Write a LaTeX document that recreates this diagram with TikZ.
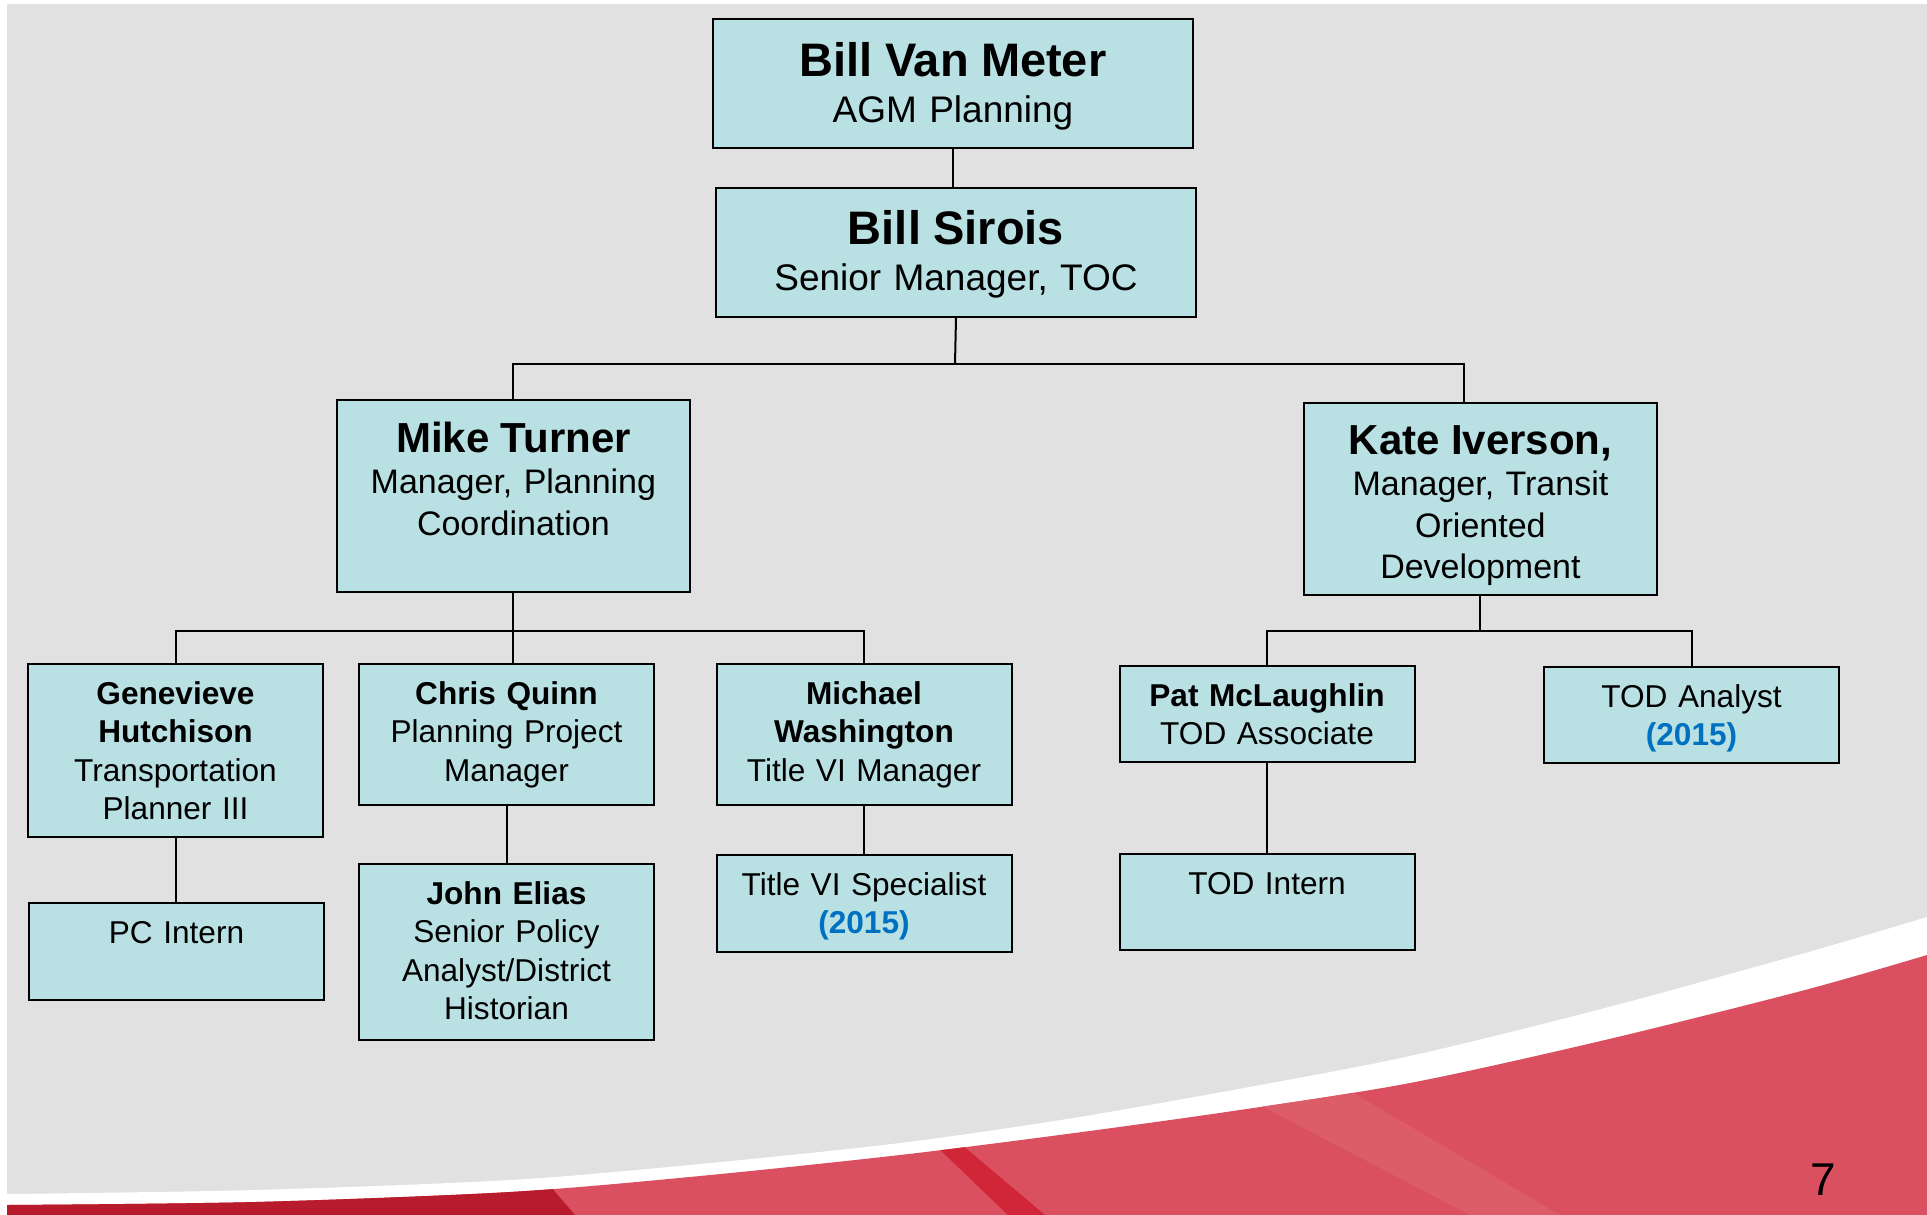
\documentclass[tikz,border=0pt]{standalone}
\usepackage{fontspec}
\setmainfont{Liberation Sans}
\usepackage{xcolor}
\usepackage{tikz}
\definecolor{slidegray}{HTML}{E1E1E1}
\definecolor{boxfill}{HTML}{B9E0E3}
\definecolor{yearblue}{HTML}{0070C0}
\definecolor{swooshred}{HTML}{DB5060}
\definecolor{darkred}{HTML}{B71B2C}
\definecolor{stripered}{HTML}{D02638}
\definecolor{lightred}{HTML}{DD5C6A}
\tikzset{
	orgbox/.style={draw=black, line width=1pt, fill=boxfill, anchor=north west, inner sep=0pt, align=center},
	toplevel/.style={orgbox, text width=240pt, font=\fontsize{18.5}{23}\selectfont},
	midlevel/.style={orgbox, text width=176.4pt, font=\fontsize{17}{20.8}\selectfont},
	lowlevel/.style={orgbox, text width=147.5pt, text height=20.25pt, font=\fontsize{15.8}{19.15}\selectfont},
	link/.style={line width=1pt},
}
\newcommand{\bigname}[1]{{\fontsize{23.5}{23}\selectfont\bfseries #1}}
\newcommand{\midname}[1]{{\fontsize{21}{20.8}\selectfont\bfseries #1}}
\newcommand{\hireyear}{{\color{yearblue}\bfseries (2015)}}

\begin{document}
\begin{tikzpicture}[x=0.5pt,y=-0.5pt]
		\useasboundingbox (0,0) rectangle (1927,1215);
		\fill[white] (0,0) rectangle (1927,1215);
		\fill[slidegray] (7,4) rectangle (1927,1215); % fondo
		\fill[white] plot[smooth] coordinates {(7,1194) (255,1190) (510,1180) (700,1164) (900,1143) (1067,1119) (1233,1090) (1410,1056) (1605,1008) (1805,953) (1927,917)} -- (1927,1215) -- (7,1215) -- cycle;
		\begin{scope}
		\clip plot[smooth] coordinates {(7,1205) (255,1202) (510,1192) (700,1176) (900,1155) (1067,1134) (1233,1111) (1410,1083) (1605,1040) (1805,990) (1927,955)} -- (1927,1215) -- (7,1215) -- cycle;
		\fill[swooshred] (7,900) rectangle (1927,1215);
		\fill[darkred] (7,1180) -- (545,1180) -- (575,1215) -- (7,1215) -- cycle;
		\fill[stripered] (935,1145) -- (962,1145) -- (1045,1215) -- (1008,1215) -- cycle;
		\fill[lightred] (1250,1100) -- (1340,1085) -- (1560,1215) -- (1470,1215) -- cycle;
		\end{scope}
		% cajas
		\node[toplevel, text height=28.85pt, text depth=35.65pt] (vanmeter) at (712,18) {\bigname{Bill Van Meter}\\AGM Planning};
		\node[toplevel, text height=28pt, text depth=36.35pt] (sirois) at (715,187) {\bigname{Bill Sirois}\\Senior Manager, TOC};
		\node[midlevel, text height=26pt, text depth=70pt] (mike) at (336,399) {\midname{Mike Turner}\\Manager, Planning\\Coordination};
		\node[midlevel, text height=25.5pt, text depth=70.5pt] (kate) at (1303,402) {\midname{Kate Iverson,}\\Manager, Transit\\Oriented\\Development};
		\node[lowlevel, text depth=66.4pt] (gen) at (27,663) {\textbf{Genevieve}\\\textbf{Hutchison}\\Transportation\\Planner III};
		\node[lowlevel, text depth=50.1pt] (chris) at (358,663) {\textbf{Chris Quinn}\\Planning Project\\Manager};
		\node[lowlevel, text depth=50.2pt] (michael) at (715.5,663) {\textbf{Michael}\\\textbf{Washington}\\Title VI Manager};
		\node[lowlevel, text depth=27.75pt] (pat) at (1118.5,665) {\textbf{Pat McLaughlin}\\TOD Associate};
		\node[lowlevel, text depth=28pt] (todanalyst) at (1543,665.5) {TOD Analyst\\\hireyear};
		\node[lowlevel, text depth=28pt] (pcintern) at (28,902) {PC Intern};
		\node[lowlevel, text depth=67.9pt] (john) at (358,863) {\textbf{John Elias}\\Senior Policy\\Analyst/District\\Historian};
		\node[lowlevel, text depth=28pt] (titlevispec) at (715.5,854) {Title VI Specialist\\\hireyear};
		\node[lowlevel, text depth=27.75pt] (todintern) at (1118.5,853) {TOD Intern};
		% lineas
		\coordinate (topbus) at (955,364);
		\coordinate (mikebus) at (512,631);
		\coordinate (katebus) at (1480,631);
		\coordinate (katein) at ([xshift=-8pt]kate.north);
		\draw[link] (vanmeter.south) -- (vanmeter.south |- sirois.north);
		\draw[link] (sirois.south) -- (topbus);
		\draw[link] (mike.north) |- (topbus) -| (katein);
		\draw[link] (mike.south) -- (mike.south |- chris.north);
		\draw[link] (gen.north) |- (mikebus) -| (michael.north);
		\draw[link] (kate.south) -- (kate.south |- katebus);
		\draw[link] (pat.north) |- (katebus) -| (todanalyst.north);
		\draw[link] (gen.south) -- (gen.south |- pcintern.north);
		\draw[link] (chris.south) -- (john.north);
		\draw[link] (michael.south) -- (titlevispec.north);
		\draw[link] (pat.south) -- (todintern.north);
		\node[anchor=base, font=\fontsize{23}{23}\selectfont] (pagenum) at (1823,1195) {7};
\end{tikzpicture}
\end{document}
